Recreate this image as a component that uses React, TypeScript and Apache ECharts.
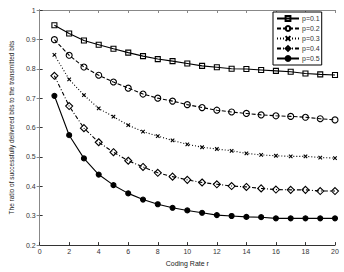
import React, { useEffect, useRef } from "react";
import * as echarts from "echarts";

const rates = [1, 2, 3, 4, 5, 6, 7, 8, 9, 10, 11, 12, 13, 14, 15, 16, 17, 18, 19, 20];
const seriesNames = ["p=0.1", "p=0.2", "p=0.3", "p=0.4", "p=0.5"];
const p1 = [0.948, 0.92, 0.896, 0.882, 0.868, 0.855, 0.843, 0.833, 0.826, 0.818, 0.81, 0.805, 0.8, 0.799, 0.796, 0.793, 0.79, 0.784, 0.781, 0.779];
const p2 = [0.899, 0.846, 0.806, 0.778, 0.755, 0.734, 0.714, 0.7, 0.69, 0.678, 0.668, 0.659, 0.653, 0.648, 0.643, 0.64, 0.638, 0.635, 0.63, 0.626];
const p3 = [0.847, 0.764, 0.71, 0.665, 0.637, 0.608, 0.586, 0.571, 0.556, 0.543, 0.533, 0.527, 0.521, 0.512, 0.507, 0.504, 0.502, 0.502, 0.498, 0.496];
const p4 = [0.776, 0.673, 0.598, 0.55, 0.516, 0.487, 0.466, 0.446, 0.433, 0.422, 0.413, 0.407, 0.401, 0.398, 0.393, 0.389, 0.388, 0.388, 0.384, 0.384];
const p5 = [0.708, 0.574, 0.495, 0.44, 0.404, 0.376, 0.355, 0.339, 0.327, 0.318, 0.31, 0.302, 0.299, 0.296, 0.295, 0.291, 0.291, 0.291, 0.291, 0.291];
const allValues = [p1, p2, p3, p4, p5];

const FONT = "Liberation Sans";

export default function App() {
  const ref = useRef<HTMLDivElement>(null);
  useEffect(() => {
    if (!ref.current) return;
    const chart = echarts.init(ref.current, null, { renderer: "svg" });
    const styles: any[] = [
      { symbol: "rect", size: 5, fill: "transparent", line: "solid" },
      { symbol: "circle", size: 6, fill: "transparent", line: [4, 2] },
      { symbol: "path://M0,0L10,10M10,0L0,10", size: 3.5, fill: "#000", line: [1, 2] },
      { symbol: "diamond", size: 7, fill: "transparent", line: [4, 2, 1, 2] },
      { symbol: "circle", size: 5, fill: "#000", line: "solid" },
    ];
    const series = allValues.map((vals, i) => ({
      name: seriesNames[i],
      type: "line",
      data: vals.map((v, j) => [rates[j], v]),
      symbol: styles[i].symbol,
      symbolSize: styles[i].size,
      showAllSymbol: true,
      lineStyle: { color: "#000", width: 1.1, type: styles[i].line },
      itemStyle: { color: styles[i].fill, borderColor: "#000", borderWidth: 1.1 },
      xAxisIndex: 0,
      yAxisIndex: 0,
    }));
    const labelFmt = (v: number) => String(Math.round(v * 10) / 10);
    chart.setOption({
      animation: false,
      backgroundColor: "#fff",
      textStyle: { fontFamily: FONT },
      grid: { left: 24, right: 9, top: 10, bottom: 20 },
      legend: {
        orient: "vertical",
        left: 273,
        top: 12,
        itemWidth: 22,
        itemHeight: 6,
        itemGap: 3,
        padding: [3, 2, 3, 3],
        borderColor: "#000",
        borderWidth: 1,
        backgroundColor: "#fff",
        textStyle: { fontSize: 7, color: "#333", fontFamily: FONT, padding: [0, 0, 0, -2] },
        data: seriesNames,
      },
      xAxis: [
        {
          type: "value",
          min: 0,
          max: 20,
          interval: 2,
          name: "Coding Rate r",
          nameLocation: "middle",
          nameGap: 12,
          nameTextStyle: { fontSize: 7, color: "#222", fontFamily: FONT },
          axisLine: { lineStyle: { color: "#333", width: 1 } },
          axisTick: { inside: true, length: 3, lineStyle: { color: "#333" } },
          axisLabel: { fontSize: 7, color: "#333", margin: 3, fontFamily: FONT },
          splitLine: { show: false },
        },
        {
          type: "value",
          position: "top",
          min: 0,
          max: 20,
          interval: 2,
          axisLine: { show: true, lineStyle: { color: "#888", width: 1 } },
          axisTick: { inside: true, length: 3, lineStyle: { color: "#888" } },
          axisLabel: { show: false },
          splitLine: { show: false },
        },
      ],
      yAxis: [
        {
          type: "value",
          min: 0.2,
          max: 1,
          interval: 0.1,
          name: "The ratio of successfully delivered bits to the transmitted bits",
          nameLocation: "middle",
          nameGap: 16,
          nameTextStyle: { fontSize: 6.5, color: "#222", fontFamily: FONT },
          axisLine: { show: true, lineStyle: { color: "#333", width: 1 } },
          axisTick: { show: true, inside: true, length: 3, lineStyle: { color: "#333" } },
          axisLabel: { fontSize: 7, color: "#333", margin: 4, formatter: labelFmt, fontFamily: FONT },
          splitLine: { show: false },
        },
        {
          type: "value",
          position: "right",
          min: 0.2,
          max: 1,
          interval: 0.1,
          axisLine: { show: true, lineStyle: { color: "#888", width: 1 } },
          axisTick: { show: true, inside: true, length: 3, lineStyle: { color: "#888" } },
          axisLabel: { show: false },
          splitLine: { show: false },
        },
      ],
      series,
    });
    return () => chart.dispose();
  }, []);
  return <div ref={ref} style={{ position: "fixed", left: 0, top: 0, width: 344, height: 272 }} />;
}
